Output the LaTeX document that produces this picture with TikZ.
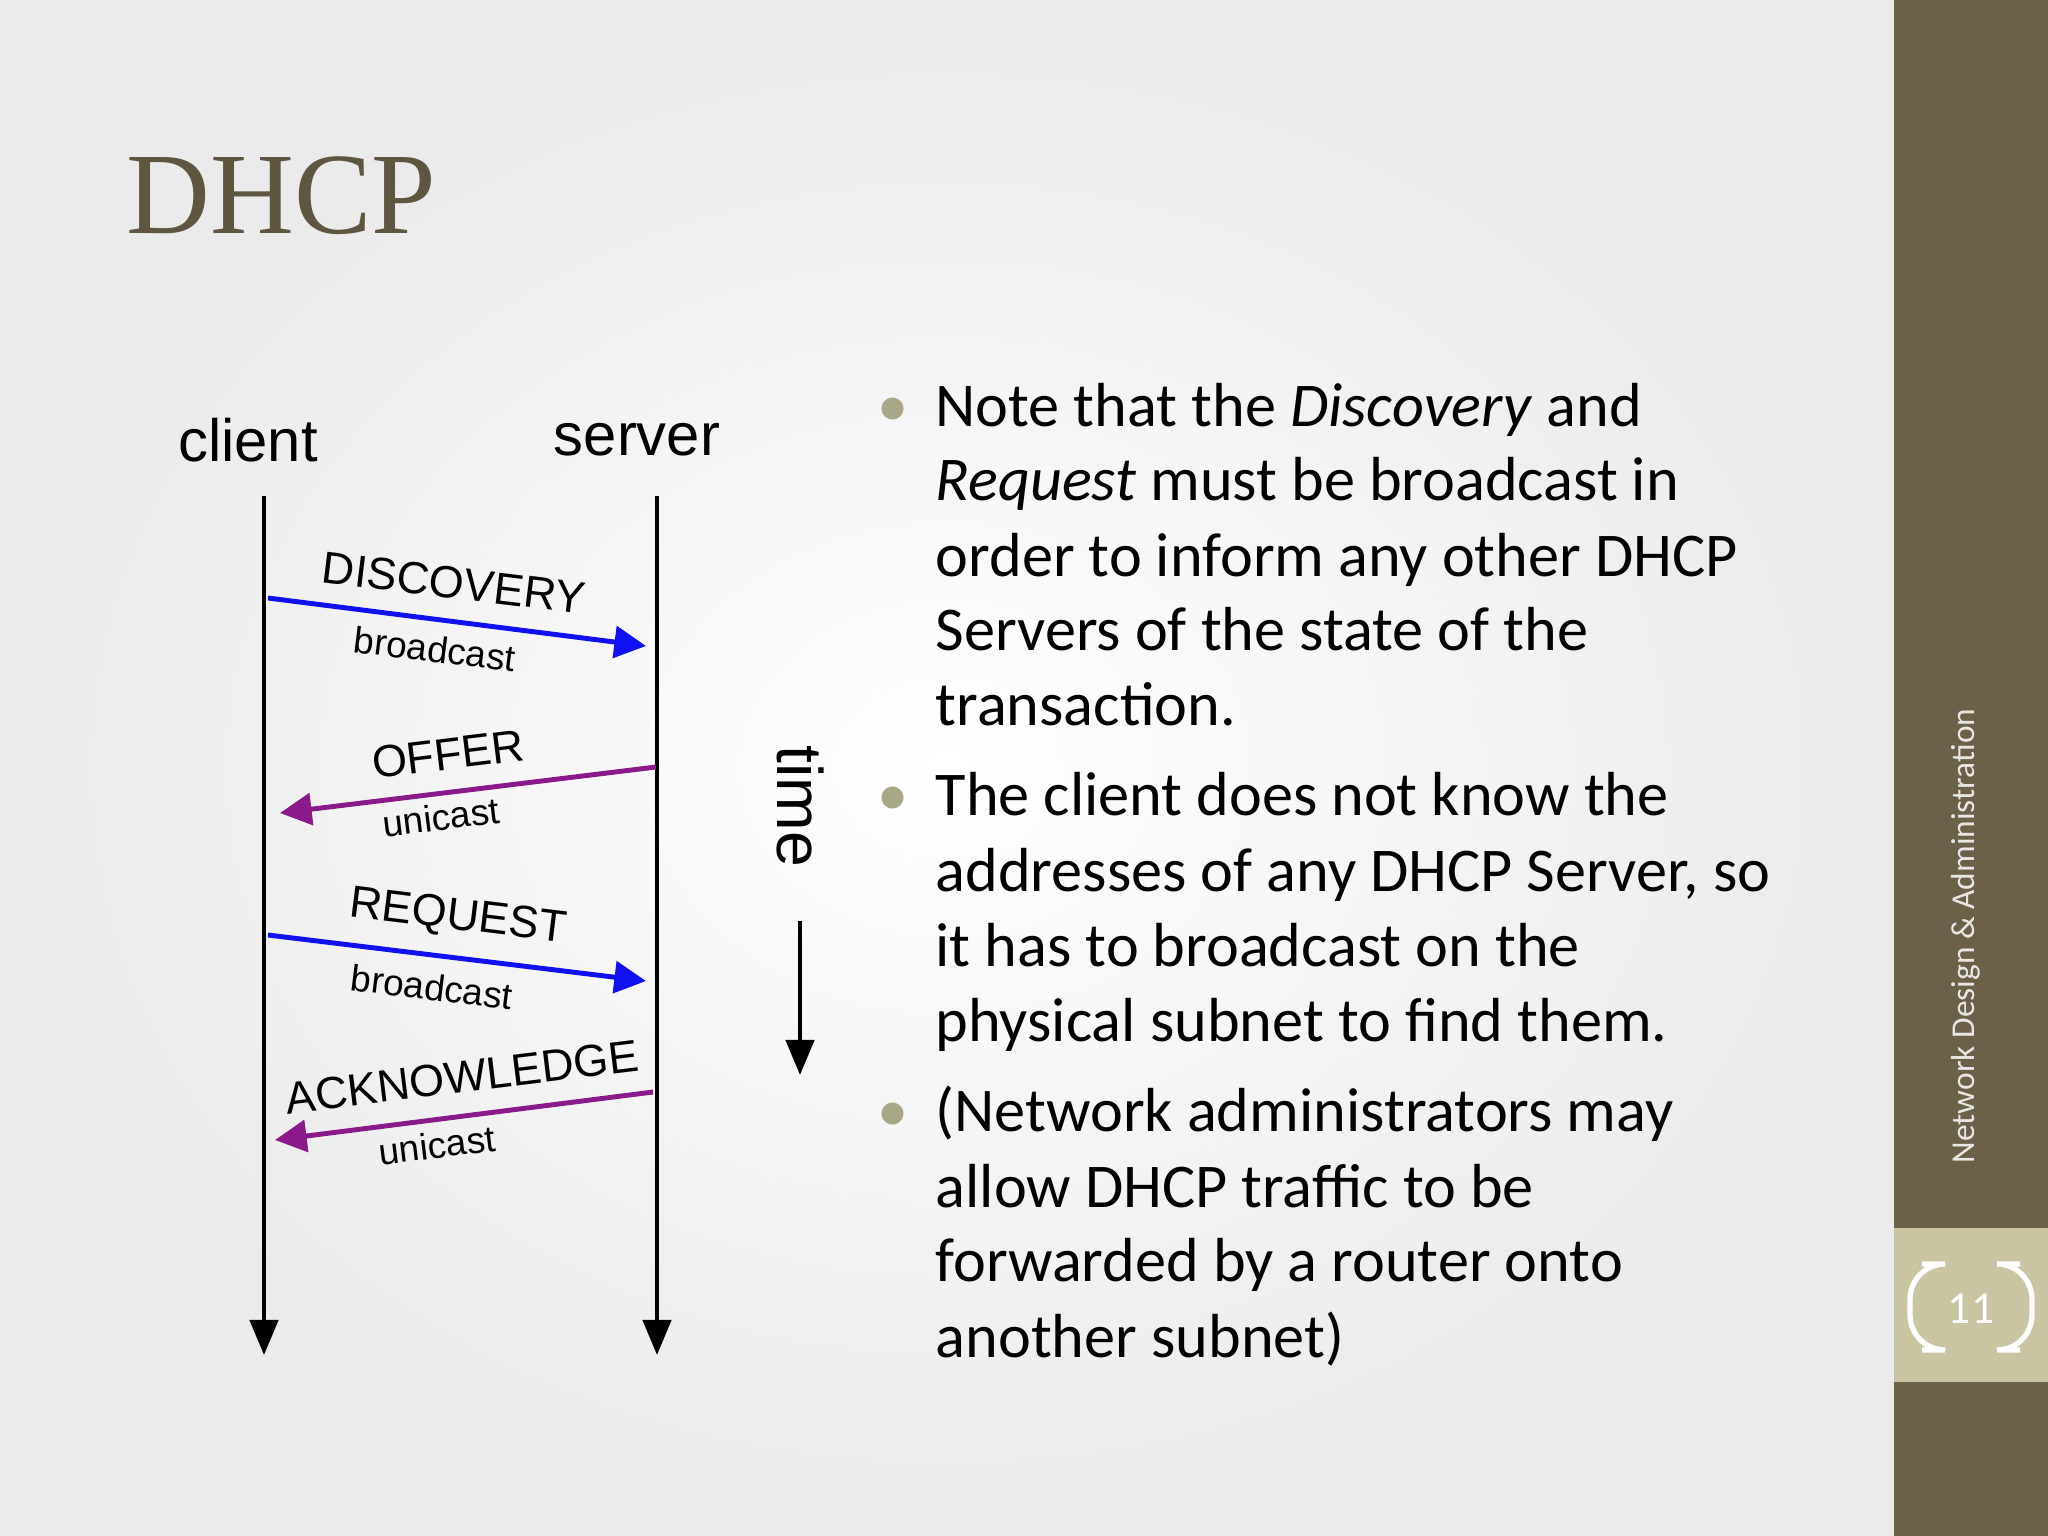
\documentclass[tikz,border=0pt]{standalone}
\usepackage{fontspec}
\setmainfont{Carlito}
\newfontfamily\arialf{Liberation Sans}
\newfontfamily\serff{Liberation Serif}
\usetikzlibrary{arrows.meta}
\definecolor{olive}{HTML}{6B6048}
\definecolor{lightol}{HTML}{C9C4A2}
\definecolor{titlec}{HTML}{5E5640}
\definecolor{bluea}{HTML}{1010F0}
\definecolor{purpa}{HTML}{8A1A8A}
\definecolor{bulc}{HTML}{A8A888}
\begin{document}
\begin{tikzpicture}[x=0.01cm,y=-0.01cm,
  msgb/.style={bluea,line width=1.4pt,-{Triangle[length=9pt,width=9pt]}},
  msgp/.style={purpa,line width=1.4pt,-{Triangle[length=9pt,width=9pt]}},
  life/.style={line width=1.3pt,-{Triangle[length=10pt,width=8pt]}},
  big/.style={font=\arialf\fontsize{12.8}{14}\selectfont},
  small/.style={font=\arialf\fontsize{10.5}{12}\selectfont},
  btxt/.style={anchor=base west,font=\fontsize{17.7}{19}\selectfont,inner sep=0},
  bul/.style={anchor=base,font=\fontsize{17.7}{19}\selectfont,text=bulc,inner sep=0}]
\useasboundingbox (0,0) rectangle (2048,1536);
\shade[inner color=white,outer color=black!8] (0,0) rectangle (1894,1536);
\fill[olive] (1894,0) rectangle (2048,1536);
\fill[lightol] (1894,1228) rectangle (2048,1382);
\draw[white,line width=1.5pt,rounded corners=10] (1922,1264) -- (1910,1264) -- (1910,1350) -- (1922,1350);
\draw[white,line width=1.5pt,rounded corners=10] (2020,1264) -- (2032,1264) -- (2032,1350) -- (2020,1350);
\node[text=white,font=\fontsize{13}{14}\selectfont] (pg) at (1971,1309) {11};
\node[rotate=90,text=white!85!olive,font=\fontsize{9.5}{10}\selectfont] (side) at (1966,936) {Network Design \& Administration};
\node[anchor=west,text=titlec,font=\serff\fontsize{33}{36}\selectfont,inner sep=0] (title) at (126,196) {DHCP};
% lifelines
\node[font=\arialf\fontsize{17}{20}\selectfont] (cl) at (248,440) {client};
\node[font=\arialf\fontsize{17}{20}\selectfont] (sv) at (637,440) {server};
\coordinate (c0) at (264,496); \coordinate (c1) at (264,1355);
\coordinate (s0) at (657,496); \coordinate (s1) at (657,1355);
\draw[life] (c0) -- (c1);
\draw[life] (s0) -- (s1);
% messages
\coordinate (d0) at (268,598); \coordinate (d1) at (646,646);
\draw[msgb] (d0) -- (d1);
\node[big,rotate=-7] (dl) at (454,583) {DISCOVERY};
\node[small,rotate=-7] (db) at (435,649) {broadcast};
\coordinate (o0) at (656,767); \coordinate (o1) at (280,813);
\draw[msgp] (o0) -- (o1);
\node[big,rotate=7] (ol) at (448,754) {OFFER};
\node[small,rotate=7] (ou) at (441,817) {unicast};
\coordinate (r0) at (268,935); \coordinate (r1) at (646,981);
\draw[msgb] (r0) -- (r1);
\node[big,rotate=-7] (rl) at (458,918) {REQUEST};
\node[small,rotate=-7] (rb) at (432,987) {broadcast};
\coordinate (a0) at (653,1092); \coordinate (a1) at (275,1140);
\draw[msgp] (a0) -- (a1);
\node[big,rotate=7] (al) at (462,1077) {ACKNOWLEDGE};
\node[small,rotate=7] (au) at (437,1145) {unicast};
% time
\node[rotate=-90,font=\arialf\fontsize{18.3}{20}\selectfont] (tm) at (800,806) {time};
\coordinate (t0) at (800,921); \coordinate (t1) at (800,1075);
\draw[life] (t0) -- (t1);
% bullets
\begin{scope}[yshift=-5pt]
\node[bul] (b1) at (893,409) {•};
\node[btxt] at (935,409) {Note that the \textit{Discovery} and};
\node[btxt] at (935,483) {\textit{Request} must be broadcast in};
\node[btxt] at (935,559) {order to inform any other DHCP};
\node[btxt] at (935,633) {Servers of the state of the};
\node[btxt] at (935,708) {transaction.};
\node[bul] (b2) at (893,798) {•};
\node[btxt] at (935,798) {The client does not know the};
\node[btxt] at (935,874) {addresses of any DHCP Server, so};
\node[btxt] at (935,949) {it has to broadcast on the};
\node[btxt] at (935,1024) {physical subnet to find them.};
\node[bul] (b3) at (893,1114) {•};
\node[btxt] at (935,1114) {(Network administrators may};
\node[btxt] at (935,1190) {allow DHCP traffic to be};
\node[btxt] at (935,1264) {forwarded by a router onto};
\node[btxt] at (935,1340) {another subnet)};
\end{scope}
\end{tikzpicture}
\end{document}
